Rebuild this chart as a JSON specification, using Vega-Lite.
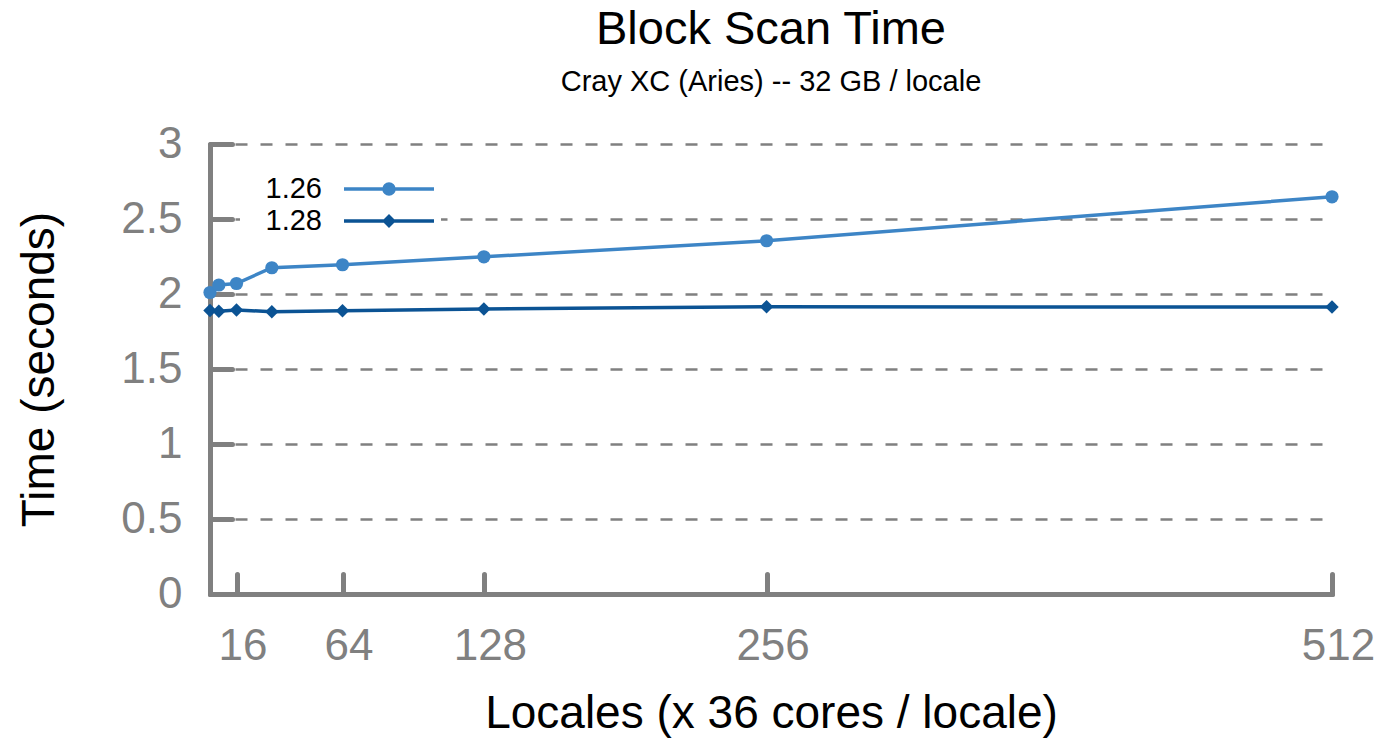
{
  "$schema": "https://vega.github.io/schema/vega-lite/v6.json",
  "width": 1122,
  "height": 450,
  "autosize": {"type": "none"},
  "padding": {"left": 210, "top": 144, "right": 49, "bottom": 146},
  "background": "white",
  "title": {
    "text": "Block Scan Time",
    "subtitle": "Cray XC (Aries) -- 32 GB / locale",
    "anchor": "middle",
    "font": "Liberation Sans",
    "fontSize": 47,
    "fontWeight": "normal",
    "color": "black",
    "subtitleFont": "Liberation Sans",
    "subtitleFontSize": 29,
    "subtitleColor": "black",
    "subtitlePadding": 14,
    "offset": 24
  },
  "config": {"view": {"stroke": null}, "font": "Liberation Sans"},
  "data": {
    "values": [
      {"version": "1.26", "locales": 4, "time": 2.01},
      {"version": "1.26", "locales": 8, "time": 2.06},
      {"version": "1.26", "locales": 16, "time": 2.07},
      {"version": "1.26", "locales": 32, "time": 2.175},
      {"version": "1.26", "locales": 64, "time": 2.195},
      {"version": "1.26", "locales": 128, "time": 2.248},
      {"version": "1.26", "locales": 256, "time": 2.355},
      {"version": "1.26", "locales": 512, "time": 2.648},
      {"version": "1.28", "locales": 4, "time": 1.89},
      {"version": "1.28", "locales": 8, "time": 1.885},
      {"version": "1.28", "locales": 16, "time": 1.893},
      {"version": "1.28", "locales": 32, "time": 1.882},
      {"version": "1.28", "locales": 64, "time": 1.888},
      {"version": "1.28", "locales": 128, "time": 1.9},
      {"version": "1.28", "locales": 256, "time": 1.915},
      {"version": "1.28", "locales": 512, "time": 1.913}
    ]
  },
  "encoding": {
    "x": {
      "field": "locales",
      "type": "quantitative",
      "scale": {"domain": [4, 512], "nice": false, "zero": false},
      "axis": {
        "values": [16, 64, 128, 256, 512],
        "format": "d",
        "title": "Locales (x 36 cores / locale)",
        "grid": false,
        "domainColor": "#808080",
        "domainWidth": 5,
        "domainCap": "round",
        "tickColor": "#808080",
        "tickWidth": 5,
        "tickSize": -20,
        "tickCap": "round",
        "labelFont": "Liberation Sans",
        "labelFontSize": 44,
        "labelColor": "#808080",
        "labelPadding": 50,
        "labelOffset": 6,
        "labelFlush": false,
        "labelOverlap": false,
        "titleFont": "Liberation Sans",
        "titleFontSize": 46,
        "titleFontWeight": "normal",
        "titleColor": "black",
        "titlePadding": 23
      }
    },
    "y": {
      "field": "time",
      "type": "quantitative",
      "scale": {"domain": [0, 3], "nice": false},
      "axis": {
        "values": [0, 0.5, 1, 1.5, 2, 2.5, 3],
        "format": "~g",
        "title": "Time (seconds)",
        "grid": true,
        "gridColor": "#808080",
        "gridDash": [12, 13],
        "gridWidth": 2.5,
        "domainColor": "#808080",
        "domainWidth": 5,
        "domainCap": "round",
        "tickColor": "#808080",
        "tickWidth": 5,
        "tickSize": -22,
        "tickCap": "round",
        "labelFont": "Liberation Sans",
        "labelFontSize": 44,
        "labelColor": "#808080",
        "labelPadding": 50,
        "labelOverlap": false,
        "labelFlush": false,
        "titleFont": "Liberation Sans",
        "titleFontSize": 46,
        "titleFontWeight": "normal",
        "titleColor": "black",
        "titlePadding": 57
      }
    },
    "color": {
      "field": "version",
      "type": "nominal",
      "scale": {"domain": ["1.26", "1.28"], "range": ["#3d85c6", "#0b5394"]},
      "legend": {
        "orient": "none",
        "legendX": 30,
        "legendY": 28,
        "title": null,
        "direction": "vertical",
        "symbolSize": 900,
        "symbolOffset": 132,
        "symbolStrokeWidth": 3.5,
        "labelFont": "Liberation Sans",
        "labelFontSize": 29,
        "labelColor": "black",
        "labelAlign": "right",
        "labelOffset": -84,
        "rowPadding": 0,
        "padding": 0,
        "fillColor": "white",
        "encode": {
          "symbols": {
            "update": {
              "shape": {"signal": "datum.value === '1.26' ? 'M-3,0L3,0M-0.333,0A0.333,0.333,0,1,0,0.333,0A0.333,0.333,0,1,0,-0.333,0Z' : 'M-3,0L3,0M0,-0.3L0.3,0L0,0.3L-0.3,0Z'"},
              "fill": {"scale": "color", "field": "value"},
              "stroke": {"scale": "color", "field": "value"},
              "opacity": {"value": 1}
            }
          }
        }
      }
    }
  },
  "layer": [
    {"mark": {"type": "line", "strokeWidth": 3.5}},
    {
      "transform": [{"filter": "datum.version === '1.26'"}],
      "mark": {"type": "point", "filled": true, "opacity": 1, "size": 175, "shape": "circle"}
    },
    {
      "transform": [{"filter": "datum.version === '1.28'"}],
      "mark": {"type": "point", "filled": true, "opacity": 1, "size": 180, "shape": "diamond"}
    }
  ]
}
